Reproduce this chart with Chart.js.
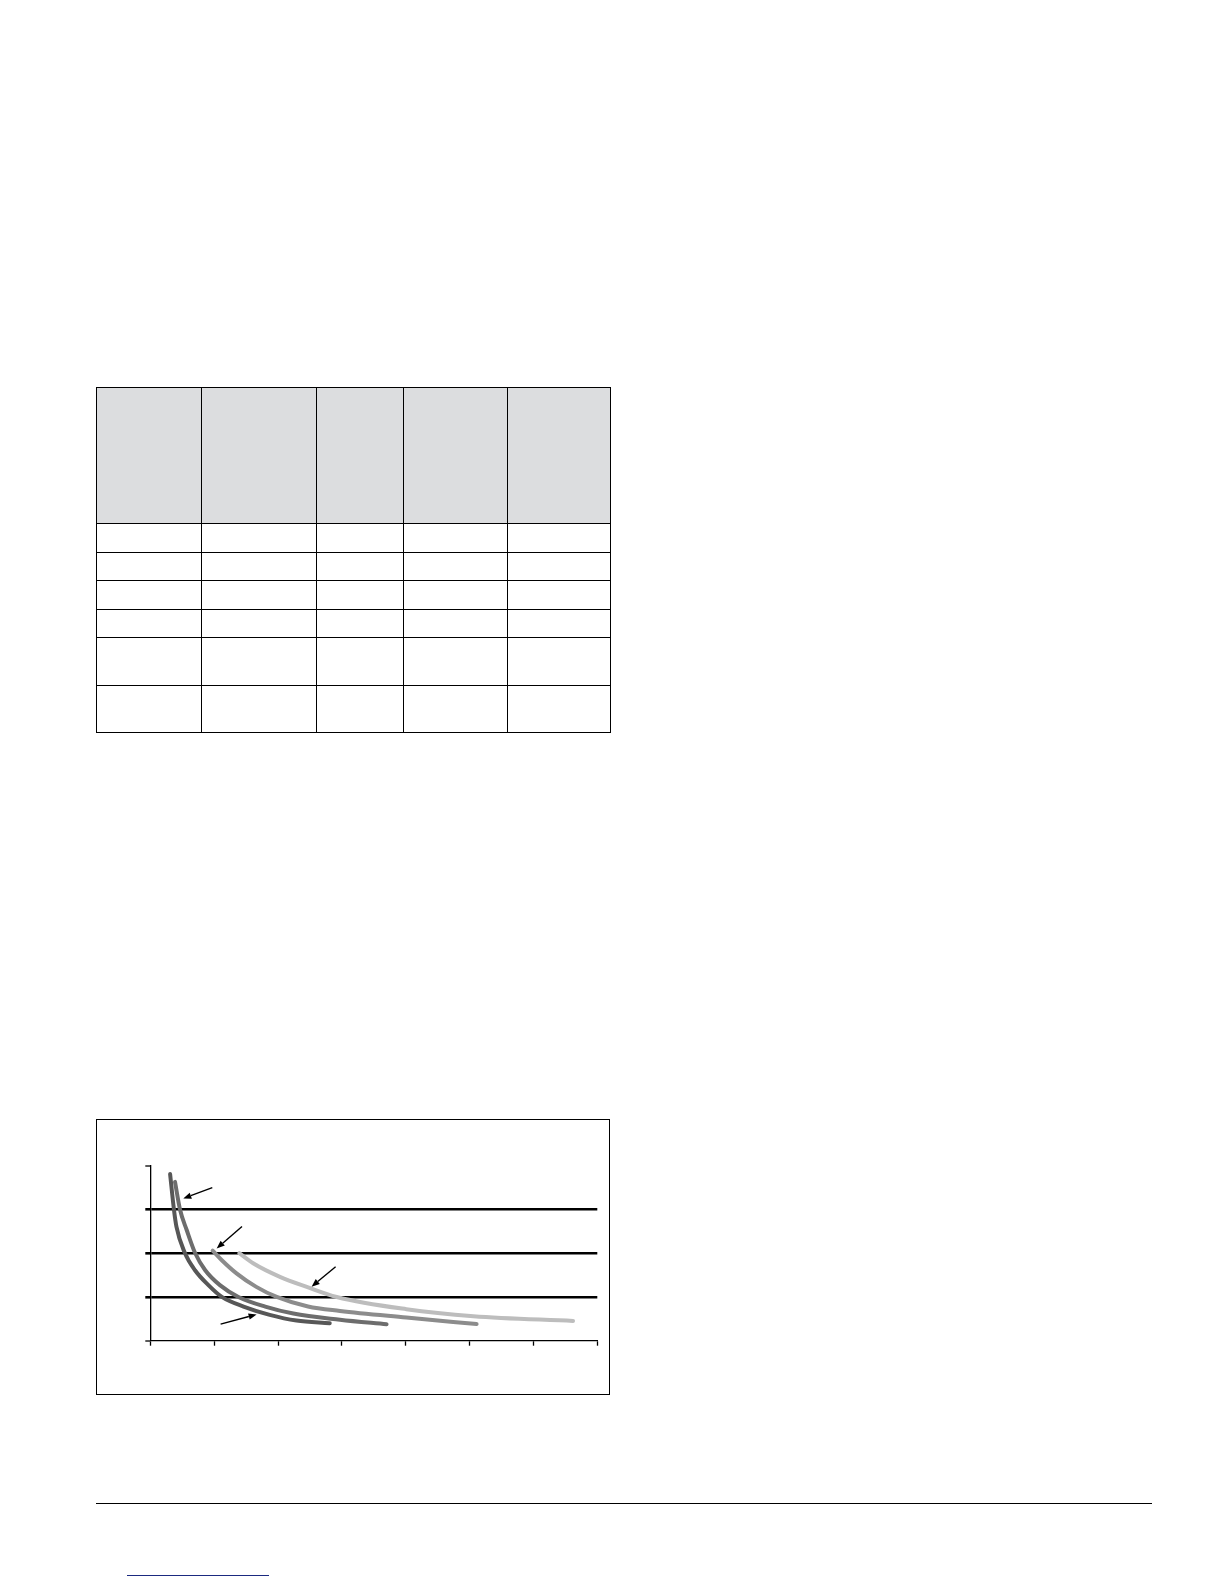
<!DOCTYPE html>
<html>
<head>
<meta charset="utf-8">
<title>Chart</title>
<script src="https://cdn.jsdelivr.net/npm/chart.js@4.4.1/dist/chart.umd.min.js"></script>
<style>
  html, body { margin: 0; padding: 0; background: #ffffff; }
  body { width: 1224px; height: 1584px; position: relative; overflow: hidden; font-family: "Liberation Sans", Arial, sans-serif; }
  table.grid { position: absolute; left: 96px; top: 387px; border-collapse: collapse; table-layout: fixed; }
  table.grid td { border: 1.5px solid #000; padding: 0; }
  table.grid tr.head td { background: #dcdddf; }
  #box { position: absolute; left: 96px; top: 1119px; width: 514px; height: 276px; box-sizing: border-box; border: 1.5px solid #000; }
  #cv { position: absolute; left: 96px; top: 1119px; }
  #rule { position: absolute; left: 96px; top: 1502.5px; width: 1056px; height: 1.6px; background: #000; }
  #link { position: absolute; left: 127px; top: 1574.5px; width: 142px; height: 1.2px; background: #1b2a80; }
</style>
</head>
<body>
<table class="grid">
  <colgroup>
    <col style="width:104.6px"><col style="width:115px"><col style="width:87px"><col style="width:104px"><col style="width:103px">
  </colgroup>
  <tr class="head" style="height:136px"><td></td><td></td><td></td><td></td><td></td></tr>
  <tr style="height:29px"><td></td><td></td><td></td><td></td><td></td></tr>
  <tr style="height:28px"><td></td><td></td><td></td><td></td><td></td></tr>
  <tr style="height:29px"><td></td><td></td><td></td><td></td><td></td></tr>
  <tr style="height:28px"><td></td><td></td><td></td><td></td><td></td></tr>
  <tr style="height:48px"><td></td><td></td><td></td><td></td><td></td></tr>
  <tr style="height:47px"><td></td><td></td><td></td><td></td><td></td></tr>
</table>

<div id="box"></div>
<canvas id="cv" width="514" height="276"></canvas>
<div id="rule"></div>
<div id="link"></div>

<script>
// ---- data ----
const curveAX = [0.31, 0.37, 0.41, 0.54, 0.70, 0.91, 1.12, 1.46, 1.87, 2.29, 2.81];
const curveAY = [3.81, 3.00, 2.60, 2.01, 1.61, 1.27, 1.00, 0.78, 0.59, 0.46, 0.40];

const curveBX = [0.387, 0.465, 0.57, 0.70, 0.86, 1.09, 1.38, 1.80, 2.24, 2.97, 3.70];
const curveBY = [3.63, 3.00, 2.53, 2.01, 1.61, 1.27, 1.00, 0.78, 0.62, 0.48, 0.375];

const curveCX = [0.976, 1.12, 1.35, 1.66, 1.98, 2.47, 2.97, 4.01, 5.11];
const curveCY = [2.06, 1.84, 1.54, 1.23, 1.00, 0.78, 0.68, 0.53, 0.38];

const curveDX = [1.394, 1.61, 2.03, 2.45, 2.92, 4.01, 5.06, 6.62];
const curveDY = [2.00, 1.77, 1.46, 1.23, 1.00, 0.72, 0.56, 0.45];

const xTicks = [0, 1, 2, 3, 4, 5, 6, 7];
const yTicks = [0, 1, 2, 3, 4];

// arrows (tail -> head), in chart units
const arrowTailX = [0.971, 1.436, 2.902, 1.101];
const arrowTailY = [3.50, 2.61, 1.69, 0.38];
const arrowHeadX = [0.517, 1.039, 2.526, 1.665];
const arrowHeadY = [3.25, 2.11, 1.235, 0.60];

function pts(xs, ys) { return xs.map((x, i) => ({ x: x, y: ys[i] })); }

const arrowPlugin = {
  id: 'arrows',
  afterDatasetsDraw(chart) {
    const c = chart.ctx, sx = chart.scales.x, sy = chart.scales.y;
    c.save();
    c.strokeStyle = '#000'; c.fillStyle = '#000'; c.lineWidth = 1.4;
    for (let i = 0; i < arrowTailX.length; i++) {
      const x1 = sx.getPixelForValue(arrowTailX[i]), y1 = sy.getPixelForValue(arrowTailY[i]);
      const x2 = sx.getPixelForValue(arrowHeadX[i]), y2 = sy.getPixelForValue(arrowHeadY[i]);
      const a = Math.atan2(y2 - y1, x2 - x1);
      const L = 8, W = 3.2;
      const bx = x2 - L * Math.cos(a), by = y2 - L * Math.sin(a);
      c.beginPath(); c.moveTo(x1, y1); c.lineTo(bx, by); c.stroke();
      c.beginPath();
      c.moveTo(x2, y2);
      c.lineTo(bx + W * Math.sin(a), by - W * Math.cos(a));
      c.lineTo(bx - W * Math.sin(a), by + W * Math.cos(a));
      c.closePath(); c.fill();
    }
    c.restore();
  }
};

const lineStyle = (color) => ({
  borderColor: color, backgroundColor: color, borderWidth: 4,
  pointRadius: 0, pointHoverRadius: 0, fill: false,
  cubicInterpolationMode: 'monotone', borderCapStyle: 'round', borderJoinStyle: 'round',
  showLine: true
});

const isMid = (v) => v >= 1 && v <= 3;

new Chart(document.getElementById('cv'), {
  type: 'scatter',
  data: {
    datasets: [
      Object.assign({ data: pts(curveDX, curveDY) }, lineStyle('#bdbdbd')),
      Object.assign({ data: pts(curveCX, curveCY) }, lineStyle('#8c8c8c')),
      Object.assign({ data: pts(curveBX, curveBY) }, lineStyle('#6d6d6d')),
      Object.assign({ data: pts(curveAX, curveAY) }, lineStyle('#575757'))
    ]
  },
  options: {
    responsive: false,
    animation: false,
    devicePixelRatio: window.devicePixelRatio || 1,
    layout: { padding: { left: 49.3, top: 46.7, right: 12.7, bottom: 49.3 } },
    plugins: { legend: { display: false }, tooltip: { enabled: false }, title: { display: false } },
    events: [],
    scales: {
      x: {
        type: 'linear', min: 0, max: 7,
        afterBuildTicks: (s) => { s.ticks = xTicks.map(v => ({ value: v })); },
        afterFit: (s) => { s.height = 5; },
        ticks: { display: false },
        grid: { drawOnChartArea: false, drawTicks: true, tickLength: 5, tickWidth: 1.3, tickColor: '#000', color: '#000' },
        border: { display: true, color: '#000', width: 1.3 }
      },
      y: {
        type: 'linear', min: 0, max: 4,
        afterBuildTicks: (s) => { s.ticks = yTicks.map(v => ({ value: v })); },
        afterFit: (s) => { s.width = 5; },
        ticks: { display: false },
        grid: {
          drawOnChartArea: true, drawTicks: true, tickLength: 5, color: '#000', tickColor: '#000',
          lineWidth: (ctx) => (ctx.tick && isMid(ctx.tick.value)) ? 2.6 : 0,
          tickWidth: (ctx) => (ctx.tick && isMid(ctx.tick.value)) ? 2.6 : 1.3
        },
        border: { display: true, color: '#000', width: 1.3 }
      }
    }
  },
  plugins: [arrowPlugin]
});
</script>
</body>
</html>
